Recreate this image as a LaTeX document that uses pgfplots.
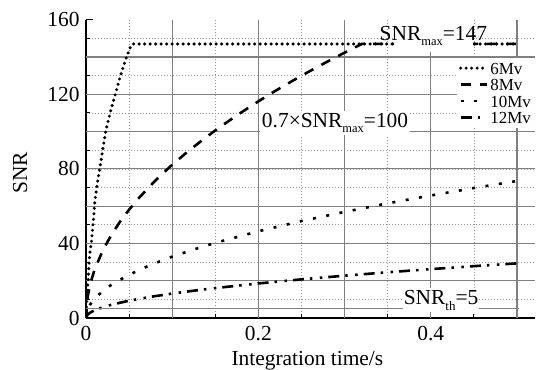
\documentclass[border=0pt]{standalone}
\usepackage{fontspec}
\setmainfont{Liberation Serif}
\usepackage{pgfplots}
\pgfplotsset{compat=1.18}
\newcommand{\mainsize}{\fontsize{21.5}{24}\selectfont}
\newcommand{\legsize}{\fontsize{17}{17}\selectfont}
\newcommand{\subtxt}[1]{\raisebox{-5bp}{\fontsize{12.5}{12.5}\selectfont #1}}
\begin{document}
\begin{tikzpicture}
\begin{axis}[
  name=ax,
  scale only axis, width=449bp, height=298.3bp,
  xmin=0, xmax=0.521, ymin=0, ymax=160,
  axis x line*=bottom, axis y line*=left,
  axis line style={line width=1.6bp, -},
  xtick={0,0.2,0.4}, xticklabels={0,0.2,0.4},
  ytick={0,40,80,120,160},
  minor xtick={0.05,0.1,0.15,0.2,0.25,0.3,0.35,0.4,0.45,0.5},
  minor ytick={10,20,30,40,50,60,70,80,90,100,110,120,130,140,150},
  tick align=inside,
  major tick length=7bp, minor tick length=4bp,
  every tick/.style={black, line width=1bp},
  xminorgrids, yminorgrids,
  minor grid style={black!40, line width=0.6bp, dash pattern=on 1bp off 2bp},
  extra x ticks={0.1,0.2,0.3,0.4,0.5}, extra x tick labels={},
  extra y ticks={20,40,60,80,100,120,140}, extra y tick labels={},
  extra tick style={grid=major, major tick length=0pt},
  major grid style={black!50, line width=1.2bp},
  tick label style={font=\mainsize},
  /pgf/number format/assume math mode=true,
  yticklabel style={xshift=-3bp},
  xticklabel style={yshift=-5bp},
  xlabel={Integration time/s},
  ylabel={SNR},
  label style={font=\mainsize},
  xlabel style={at={(axis description cs:0.493,-0.159)}, anchor=base},
  ylabel style={at={(axis description cs:-0.1314,0.486)}, anchor=base, rotate=0},
  legend style={at={(axis cs:0.521,139.5)}, anchor=north east, draw=none, fill=white,
    inner xsep=2bp, inner ysep=2bp, row sep=0.5bp, font=\legsize,
    nodes={inner sep=2bp, text height=12bp, text depth=0bp}},
  legend cell align=left,
  legend image code/.code={\draw[#1] (0bp,0bp) -- (26bp,0bp);},
]
\addplot[black, line width=3.4bp, line cap=round, dash pattern=on 0bp off 5.5bp] coordinates {
(0,0) (0.0008,8) (0.0015,14) (0.0027,22) (0.0035,29) (0.0046,35) (0.0066,42)
(0.0085,52) (0.0104,63) (0.013,72) (0.017,83) (0.020,92) (0.023,100.5)
(0.028,110) (0.034,120) (0.040,130) (0.047,140) (0.052,146) (0.055,147) (0.5,147)};
\addlegendentry{\legsize 6Mv}
\addplot[black, line width=2.6bp, dash pattern=on 10bp off 9bp] coordinates {
(0,0) (0.002,11.6) (0.005,18.4) (0.01,26.0) (0.02,36.75) (0.03,45.0) (0.04,52.0)
(0.05,58.1) (0.06,63.7) (0.08,73.5) (0.1,82.2) (0.12,90.0) (0.14,97.2) (0.16,103.9)
(0.18,110.2) (0.2,116.2) (0.22,121.9) (0.24,127.3) (0.26,132.5) (0.28,137.5)
(0.30,142.3) (0.32,147) (0.5,147)};
\addlegendentry{\legsize 8Mv}
\addplot[black, line width=2.6bp, dash pattern=on 3bp off 10.5bp] coordinates {
(0,0) (0.002,4.65) (0.005,7.35) (0.01,10.4) (0.02,14.7) (0.03,18.0) (0.05,23.2)
(0.075,28.5) (0.1,32.9) (0.125,36.75) (0.15,40.3) (0.2,46.5) (0.25,52.0)
(0.3,56.9) (0.35,61.5) (0.4,65.7) (0.45,69.7) (0.5,73.5)};
\addlegendentry{\legsize 10Mv}
\addplot[black, line width=2.6bp, dash pattern=on 11bp off 6bp on 2.5bp off 7.5bp on 2.5bp off 6bp] coordinates {
(0,0) (0.002,1.85) (0.005,2.93) (0.01,4.14) (0.02,5.86) (0.03,7.18) (0.05,9.27)
(0.075,11.35) (0.1,13.1) (0.125,14.65) (0.15,16.05) (0.2,18.53) (0.25,20.72)
(0.3,22.7) (0.35,24.52) (0.4,26.21) (0.45,27.8) (0.5,29.3)};
\addlegendentry{\legsize 12Mv}
\addplot[forget plot, black!50, line width=1.2bp] coordinates {(0,5) (0.503,5)};
\node[fill=white, inner xsep=-14bp, inner ysep=7bp, anchor=base, font=\mainsize]
  at (axis cs:0.403,149.1) {SNR\subtxt{max}=147};
\node[fill=white, inner xsep=2bp, inner ysep=2bp, anchor=base, font=\mainsize]
  at (axis cs:0.289,102.2) {0.7×SNR\subtxt{max}=100};
\node[fill=white, inner xsep=1bp, inner ysep=1.5bp, anchor=base, font=\mainsize]
  at (axis cs:0.412,7.5) {SNR\raisebox{-6bp}{\fontsize{13}{13}\selectfont th}=5};
\end{axis}
\pgfresetboundingbox
\path (ax.south west) ++(-86bp,-52bp) rectangle ++(537bp,370bp);
\end{tikzpicture}
\end{document}
